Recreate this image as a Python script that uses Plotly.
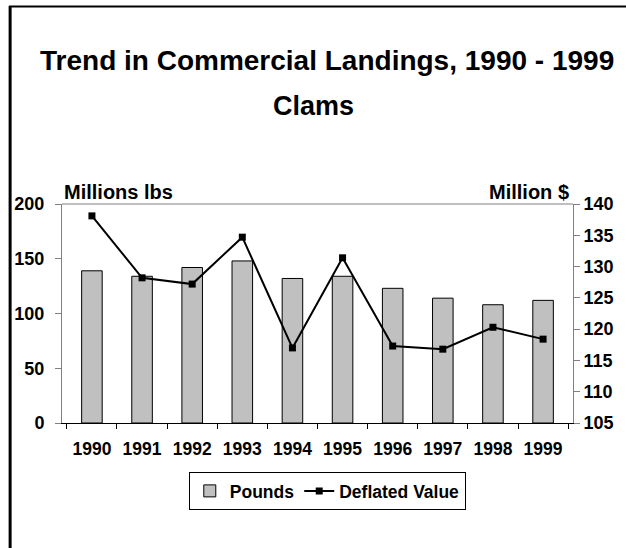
import plotly.graph_objects as go

years = ["1990", "1991", "1992", "1993", "1994", "1995", "1996", "1997", "1998", "1999"]
pounds = [139, 134, 142, 148, 132, 134, 123, 114, 108, 112]
deflated_value = [138.1, 128.2, 127.2, 134.7, 117.0, 131.4, 117.3, 116.8, 120.3, 118.4]

W, H = 626, 548
L, R, T, B = 62, 42, 204, 125
pw, ph = W - L - R, H - T - B

FONT = "Liberation Sans, Arial, sans-serif"

fig = go.Figure()
fig.add_trace(go.Bar(
    x=years, y=pounds, name="Pounds", width=0.41,
    marker=dict(color="#C0C0C0", line=dict(color="#000000", width=1)),
))
fig.add_trace(go.Scatter(
    x=years, y=deflated_value, name="Deflated Value", yaxis="y2",
    mode="lines+markers",
    line=dict(color="#000000", width=2),
    marker=dict(symbol="square", size=7, color="#000000"),
))

def px_x(x):
    return (x - L) / pw

def px_y(y):
    return 1 - (y - T) / ph

tickfont = dict(family=FONT, size=18, color="#000000", weight="bold")

fig.update_layout(
    width=W, height=H,
    margin=dict(l=L, r=R, t=T, b=B, pad=0),
    paper_bgcolor="white", plot_bgcolor="white",
    font=dict(family=FONT, size=18, color="#000000", weight="bold"),
    showlegend=True,
    legend=dict(
        orientation="h", x=px_x(333), xanchor="center", y=px_y(472), yanchor="top",
        bordercolor="#000000", borderwidth=1, bgcolor="white",
        font=dict(family=FONT, size=17.5, weight="bold"),
        itemwidth=30, tracegroupgap=0,
    ),
    xaxis=dict(
        type="category", showgrid=False, showline=True, linecolor="#000000", linewidth=1,
        ticks="outside", ticklen=5, tickcolor="#000000", tickson="boundaries",
        tickfont=dict(family=FONT, size=17.5, color="#000000", weight="bold"),
        ticklabelstandoff=10,
        fixedrange=True,
    ),
    yaxis=dict(
        range=[0, 200], dtick=50, showgrid=False, showline=True, linecolor="#808080", linewidth=1,
        ticks="outside", ticklen=6, tickcolor="#808080", zeroline=False,
        tickfont=tickfont, ticklabelstandoff=7,
    ),
    yaxis2=dict(
        range=[105, 140], dtick=5, overlaying="y", side="right", showgrid=False,
        showline=True, linecolor="#808080", linewidth=1,
        ticks="outside", ticklen=6, tickcolor="#808080", zeroline=False,
        tickfont=tickfont, ticklabelstandoff=0,
    ),
    shapes=[
        # plot area top border
        dict(type="line", xref="paper", yref="paper", x0=0, x1=1, y0=1, y1=1,
             line=dict(color="#808080", width=1)),
        # outer chart frame (left and top edges)
        dict(type="line", xref="paper", yref="paper", x0=px_x(9), x1=px_x(9), y0=px_y(6), y1=px_y(560),
             line=dict(color="#000000", width=3)),
        dict(type="line", xref="paper", yref="paper", x0=px_x(8), x1=px_x(640), y0=px_y(6.5), y1=px_y(6.5),
             line=dict(color="#000000", width=2)),
    ],
    annotations=[
        dict(text="Trend in Commercial Landings, 1990 - 1999", xref="paper", yref="paper",
             x=px_x(333), y=px_y(60), xanchor="center", yanchor="middle", showarrow=False,
             font=dict(family=FONT, size=28, weight="bold")),
        dict(text="Clams", xref="paper", yref="paper",
             x=px_x(319), y=px_y(106), xanchor="center", yanchor="middle", showarrow=False,
             font=dict(family=FONT, size=27, weight="bold")),
        dict(text="Millions lbs", xref="paper", yref="paper",
             x=px_x(62), y=px_y(192), xanchor="left", yanchor="middle", showarrow=False,
             font=dict(family=FONT, size=20, weight="bold")),
        dict(text="Million $", xref="paper", yref="paper",
             x=px_x(582), y=px_y(192), xanchor="right", yanchor="middle", showarrow=False,
             font=dict(family=FONT, size=20, weight="bold")),
    ],
)

fig.write_html("out.html", config={"displayModeBar": False},
               post_script="document.body.style.margin='0px';")
